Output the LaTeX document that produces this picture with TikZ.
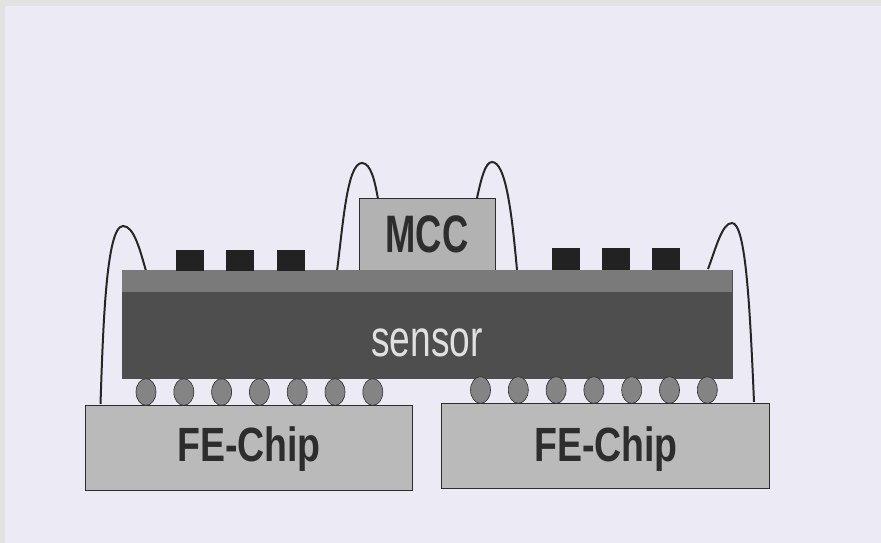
\documentclass[tikz,border=0pt]{standalone}
\usepackage{fontspec}
\setmainfont{Liberation Sans}
\usetikzlibrary{positioning, shapes.geometric}
\definecolor{paperblue}{RGB}{236,235,245}
\definecolor{edgegray}{RGB}{226,226,226}
\definecolor{chipgray}{RGB}{186,186,186}
\definecolor{mccgray}{RGB}{178,178,178}
\definecolor{sensorgray}{RGB}{78,78,78}
\definecolor{metalgray}{RGB}{122,122,122}
\definecolor{bumpgray}{RGB}{132,132,132}
\definecolor{padblack}{RGB}{34,34,34}
\definecolor{inkgray}{RGB}{45,45,45}
\begin{document}
\begin{tikzpicture}[
        x=0.03cm, y=-0.03cm,
        node distance=0.534cm,
        chip/.style={rectangle, draw=inkgray, fill=chipgray, line width=0.7pt, minimum width=9.83cm, minimum height=2.55cm, inner sep=0pt},
        sensorbox/.style={rectangle, draw=sensorgray, fill=sensorgray, minimum width=18.3cm, minimum height=3.24cm, inner sep=0pt},
        metal/.style={rectangle, fill=metalgray, minimum width=18.3cm, minimum height=0.66cm, inner sep=0pt},
        mcc/.style={rectangle, draw=inkgray, fill=mccgray, line width=0.6pt, minimum width=4.1cm, minimum height=2.15cm, inner sep=0pt},
        pad/.style={rectangle, fill=padblack, minimum width=0.84cm, minimum height=0.63cm, inner sep=0pt},
        bump/.style={ellipse, draw=inkgray, fill=bumpgray, line width=0.5pt, minimum width=0.6cm, minimum height=0.8cm, inner sep=0pt, outer sep=0pt},
        wire/.style={line width=1.7pt, black!85},
        chiplabel/.style={font=\bfseries\fontsize{41}{41}\selectfont, text=inkgray, xscale=0.78},
        mcclabel/.style={font=\bfseries\fontsize{45}{45}\selectfont, text=inkgray, xscale=0.69},
        sensorlabel/.style={font=\fontsize{44}{44}\selectfont, text=black!12, xscale=0.72}
    ]
        % page
        \fill[edgegray] (0,0) rectangle (881,543);
        \fill[paperblue] (5,6) rectangle (881,543);
        \useasboundingbox (0,0) rectangle (881,543);

        % wire ends
        \coordinate (wirea) at (100.5,404);
        \coordinate (wireatop) at (123,226);
        \coordinate (wireb) at (146,271);
        \coordinate (wirec) at (337,271);
        \coordinate (wirectop) at (362,163);
        \coordinate (wired) at (378,199);
        \coordinate (wiree) at (477,198);
        \coordinate (wireetop) at (492,162);
        \coordinate (wiref) at (517,270);
        \coordinate (wireg) at (708,269);
        \coordinate (wiregtop) at (732,223);
        \coordinate (wireh) at (754,402);

        \draw[wire] (wirea) .. controls (103,330) and (106,226) .. (wireatop) .. controls (134,226) and (140,250) .. (wireb);
        \draw[wire] (wirec) .. controls (343,225) and (347,163) .. (wirectop) .. controls (371,163) and (375,182) .. (wired);
        \draw[wire] (wiree) .. controls (481,180) and (485,162) .. (wireetop) .. controls (506,162) and (512,215) .. (wiref);
        \draw[wire] (wireg) .. controls (716,248) and (722,223) .. (wiregtop) .. controls (746,223) and (750,310) .. (wireh);

        % chips
        \node[chip] (feleft) at (249,447.5) {};
        \node[chiplabel] (feleftlabel) at (249,449) {FE-Chip};
        \node[chip] (feright) at (605.5,445.5) {};
        \node[chiplabel] (ferightlabel) at (606,449) {FE-Chip};

        % sensor with metal layer
        \node[mcc] (mcc) at (427.5,234.5) {};
        \node[mcclabel] (mcclabel) at (427,234) {MCC};
        \node[sensorbox] (sensor) at (427,324) {};
        \node[metal, below=0pt of sensor.north] (metal) {};
        \node[sensorlabel] (sensorlabel) at (427,343) {sensor};

        % small parts on the left
        \node[pad] (padla) at (190,260.5) {};
        \node[pad, right=0.66cm of padla] (padlb) {};
        \node[pad, right=0.66cm of padlb] (padlc) {};

        % small parts on the right
        \node[pad] (padra) at (565.5,259) {};
        \node[pad, right=0.66cm of padra] (padrb) {};
        \node[pad, right=0.66cm of padrb] (padrc) {};

        % bumps under the sensor
        \node[bump] (bumpla) at (146,392) {};
        \node[bump, right=of bumpla] (bumplb) {};
        \node[bump, right=of bumplb] (bumplc) {};
        \node[bump, right=of bumplc] (bumpld) {};
        \node[bump, right=of bumpld] (bumple) {};
        \node[bump, right=of bumple] (bumplf) {};
        \node[bump, right=of bumplf] (bumplg) {};

        \node[bump] (bumpra) at (480.5,390) {};
        \node[bump, right=of bumpra] (bumprb) {};
        \node[bump, right=of bumprb] (bumprc) {};
        \node[bump, right=of bumprc] (bumprd) {};
        \node[bump, right=of bumprd] (bumpre) {};
        \node[bump, right=of bumpre] (bumprf) {};
        \node[bump, right=of bumprf] (bumprg) {};
    \end{tikzpicture}
\end{document}
